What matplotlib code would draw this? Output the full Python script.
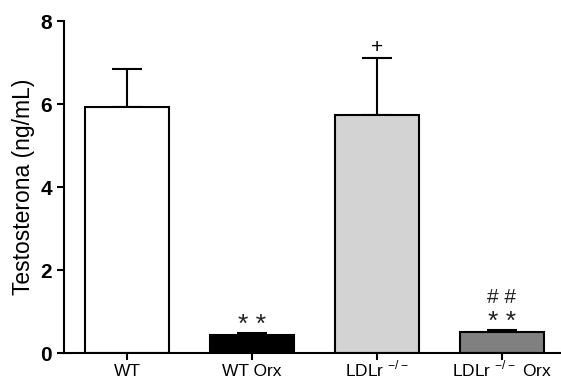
import matplotlib.pyplot as plt
import numpy as np

plt.rcParams['font.family'] = ['Liberation Sans', 'DejaVu Sans']
plt.rcParams['mathtext.fontset'] = 'custom'
plt.rcParams['mathtext.rm'] = 'Liberation Sans'

groups = ['WT', 'WT Orx', 'LDLr $^{\\mathrm{-/-}}$', 'LDLr $^{\\mathrm{-/-}}$ Orx']
means = [5.93, 0.43, 5.73, 0.50]
sem = [0.91, 0.05, 1.37, 0.05]
colors = ['white', 'black', '#d3d3d3', '#808080']
stars = ['', '* *', '', '* *']
hashes = ['', '', '', '# #']
plus = ['', '', '+', '']

fig = plt.figure(figsize=(5.61, 3.83), dpi=100)
ax = fig.add_axes([0.114, 0.078, 0.886, 0.867])

x = np.arange(len(groups))
ax.bar(x, means, width=0.67, color=colors, edgecolor='black', linewidth=1.5, zorder=2)
ax.errorbar(x, means, yerr=[np.zeros(len(sem)), sem], fmt='none', ecolor='black',
            elinewidth=1.5, capsize=11, capthick=1.5, zorder=1)

for i in range(len(groups)):
    top = means[i] + sem[i]
    if stars[i]:
        ax.text(x[i], top + 0.2, stars[i], ha='center', va='center', fontsize=19,
                color='#222222')
    if hashes[i]:
        ax.text(x[i], top + 0.8, hashes[i], ha='center', va='center', fontsize=15,
                color='#222222')
    if plus[i]:
        ax.text(x[i], top + 0.27, plus[i], ha='center', va='center', fontsize=15)

ax.set_xlim(-0.504, 3.472)
ax.set_ylim(0, 8)
ax.set_yticks([0, 2, 4, 6, 8])
ax.set_xticks(x)
ax.set_xticklabels(groups, fontsize=12.5)
for lab in ax.get_xticklabels():
    lab.set_verticalalignment('baseline')
for lab in ax.get_yticklabels():
    lab.set_fontweight('bold')
    lab.set_fontsize(15)
ax.set_ylabel('Testosterona (ng/mL)', fontsize=16.5, labelpad=4)
ax.spines['top'].set_visible(False)
ax.spines['right'].set_visible(False)
ax.spines['left'].set_linewidth(1.5)
ax.spines['bottom'].set_linewidth(1.5)
ax.tick_params(width=1.5, length=5)
ax.tick_params(axis='x', pad=11.5)

plt.savefig('out.png', dpi=100)
